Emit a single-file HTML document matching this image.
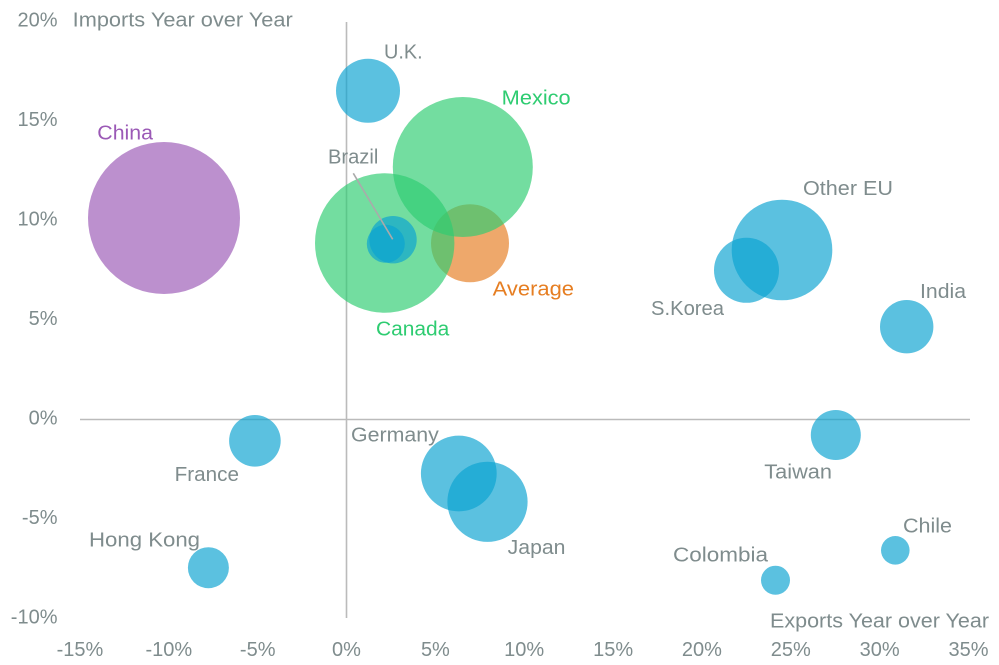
<!DOCTYPE html>
<html>
<head>
<meta charset="utf-8">
<style>
html,body{margin:0;padding:0;background:#fff;}
svg{display:block;}
text{font-family:"Liberation Sans",sans-serif;font-size:20px;fill:#7F8C8D;}
</style>
</head>
<body>
<svg width="999" height="665" viewBox="0 0 999 665" xmlns="http://www.w3.org/2000/svg">
  <!-- axes -->
  <line x1="346.5" y1="22" x2="346.5" y2="618" stroke="#bbbbbb" stroke-width="1.6"/>
  <line x1="80" y1="419.5" x2="970" y2="419.5" stroke="#bbbbbb" stroke-width="1.6"/>

  <!-- y tick labels -->
  <g text-anchor="end">
    <text x="57.5" y="26.7">20%</text>
    <text x="57.5" y="126.2">15%</text>
    <text x="57.5" y="225.7">10%</text>
    <text x="57.5" y="325.2">5%</text>
    <text x="57.5" y="424.7">0%</text>
    <text x="57.5" y="524.2">-5%</text>
    <text x="57.5" y="623.7">-10%</text>
  </g>
  <!-- x tick labels -->
  <g text-anchor="middle">
    <text x="80" y="656">-15%</text>
    <text x="168.8" y="656">-10%</text>
    <text x="257.7" y="656">-5%</text>
    <text x="346.5" y="656">0%</text>
    <text x="435.4" y="656">5%</text>
    <text x="524.2" y="656">10%</text>
    <text x="613.1" y="656">15%</text>
    <text x="701.9" y="656">20%</text>
    <text x="790.8" y="656">25%</text>
    <text x="879.6" y="656">30%</text>
    <text x="968.5" y="656">35%</text>
  </g>

  <text x="72.7" y="26.7" textLength="220" lengthAdjust="spacingAndGlyphs">Imports Year over Year</text>
  <text x="770" y="627.5" textLength="219" lengthAdjust="spacingAndGlyphs">Exports Year over Year</text>

  <!-- bubbles -->
  <g fill-opacity="0.67">
    <circle cx="164" cy="218" r="76" fill="#9B59B6"/>
    <circle cx="470" cy="243.3" r="39" fill="#E67E22"/>
    <circle cx="384.7" cy="243" r="69.7" fill="#2ECC71"/>
    <circle cx="462.8" cy="167" r="70" fill="#2ECC71"/>
    <circle cx="368" cy="90.8" r="32" fill="#0AA3D1"/>
    <circle cx="393" cy="239.7" r="23.7" fill="#0AA3D1"/>
    <circle cx="385.8" cy="243.8" r="19" fill="#0AA3D1"/>
    <circle cx="782" cy="250" r="50.3" fill="#0AA3D1"/>
    <circle cx="746.5" cy="270.3" r="32.5" fill="#0AA3D1"/>
    <circle cx="906.7" cy="326.7" r="26.7" fill="#0AA3D1"/>
    <circle cx="254.9" cy="440.8" r="25.8" fill="#0AA3D1"/>
    <circle cx="835.8" cy="435" r="25" fill="#0AA3D1"/>
    <circle cx="458.8" cy="473.5" r="37.9" fill="#0AA3D1"/>
    <circle cx="487.5" cy="501.8" r="40.1" fill="#0AA3D1"/>
    <circle cx="208.4" cy="567.7" r="20.5" fill="#0AA3D1"/>
    <circle cx="895.3" cy="550.3" r="14.3" fill="#0AA3D1"/>
    <circle cx="775.5" cy="580.2" r="14.5" fill="#0AA3D1"/>
  </g>

  <!-- Brazil leader -->
  <line x1="353.3" y1="173.3" x2="392.7" y2="239.3" stroke="#aaaaaa" stroke-width="1.6"/>

  <!-- labels -->
  <text x="384" y="58.7" textLength="38.7" lengthAdjust="spacingAndGlyphs">U.K.</text>
  <text x="501.7" y="104.7" textLength="69" lengthAdjust="spacingAndGlyphs" style="fill:#2ECC71">Mexico</text>
  <text x="97.3" y="139.3" textLength="55.7" lengthAdjust="spacingAndGlyphs" style="fill:#9B59B6">China</text>
  <text x="328" y="163.3" textLength="50.3" lengthAdjust="spacingAndGlyphs">Brazil</text>
  <text x="803" y="195" textLength="90" lengthAdjust="spacingAndGlyphs">Other EU</text>
  <text x="492.7" y="295.7" textLength="81.3" lengthAdjust="spacingAndGlyphs" style="fill:#E67E22">Average</text>
  <text x="920" y="298" textLength="46" lengthAdjust="spacingAndGlyphs">India</text>
  <text x="651" y="315" textLength="73" lengthAdjust="spacingAndGlyphs">S.Korea</text>
  <text x="376" y="335.7" textLength="73.3" lengthAdjust="spacingAndGlyphs" style="fill:#2ECC71">Canada</text>
  <text x="351" y="441.7" textLength="87.8" lengthAdjust="spacingAndGlyphs">Germany</text>
  <text x="174.7" y="481" textLength="64.3" lengthAdjust="spacingAndGlyphs">France</text>
  <text x="764.3" y="478.3" textLength="67.7" lengthAdjust="spacingAndGlyphs">Taiwan</text>
  <text x="903" y="532.7" textLength="49" lengthAdjust="spacingAndGlyphs">Chile</text>
  <text x="89" y="546.7" textLength="111" lengthAdjust="spacingAndGlyphs">Hong Kong</text>
  <text x="507.7" y="554" textLength="57.8" lengthAdjust="spacingAndGlyphs">Japan</text>
  <text x="673" y="561.7" textLength="95" lengthAdjust="spacingAndGlyphs">Colombia</text>
</svg>
</body>
</html>
